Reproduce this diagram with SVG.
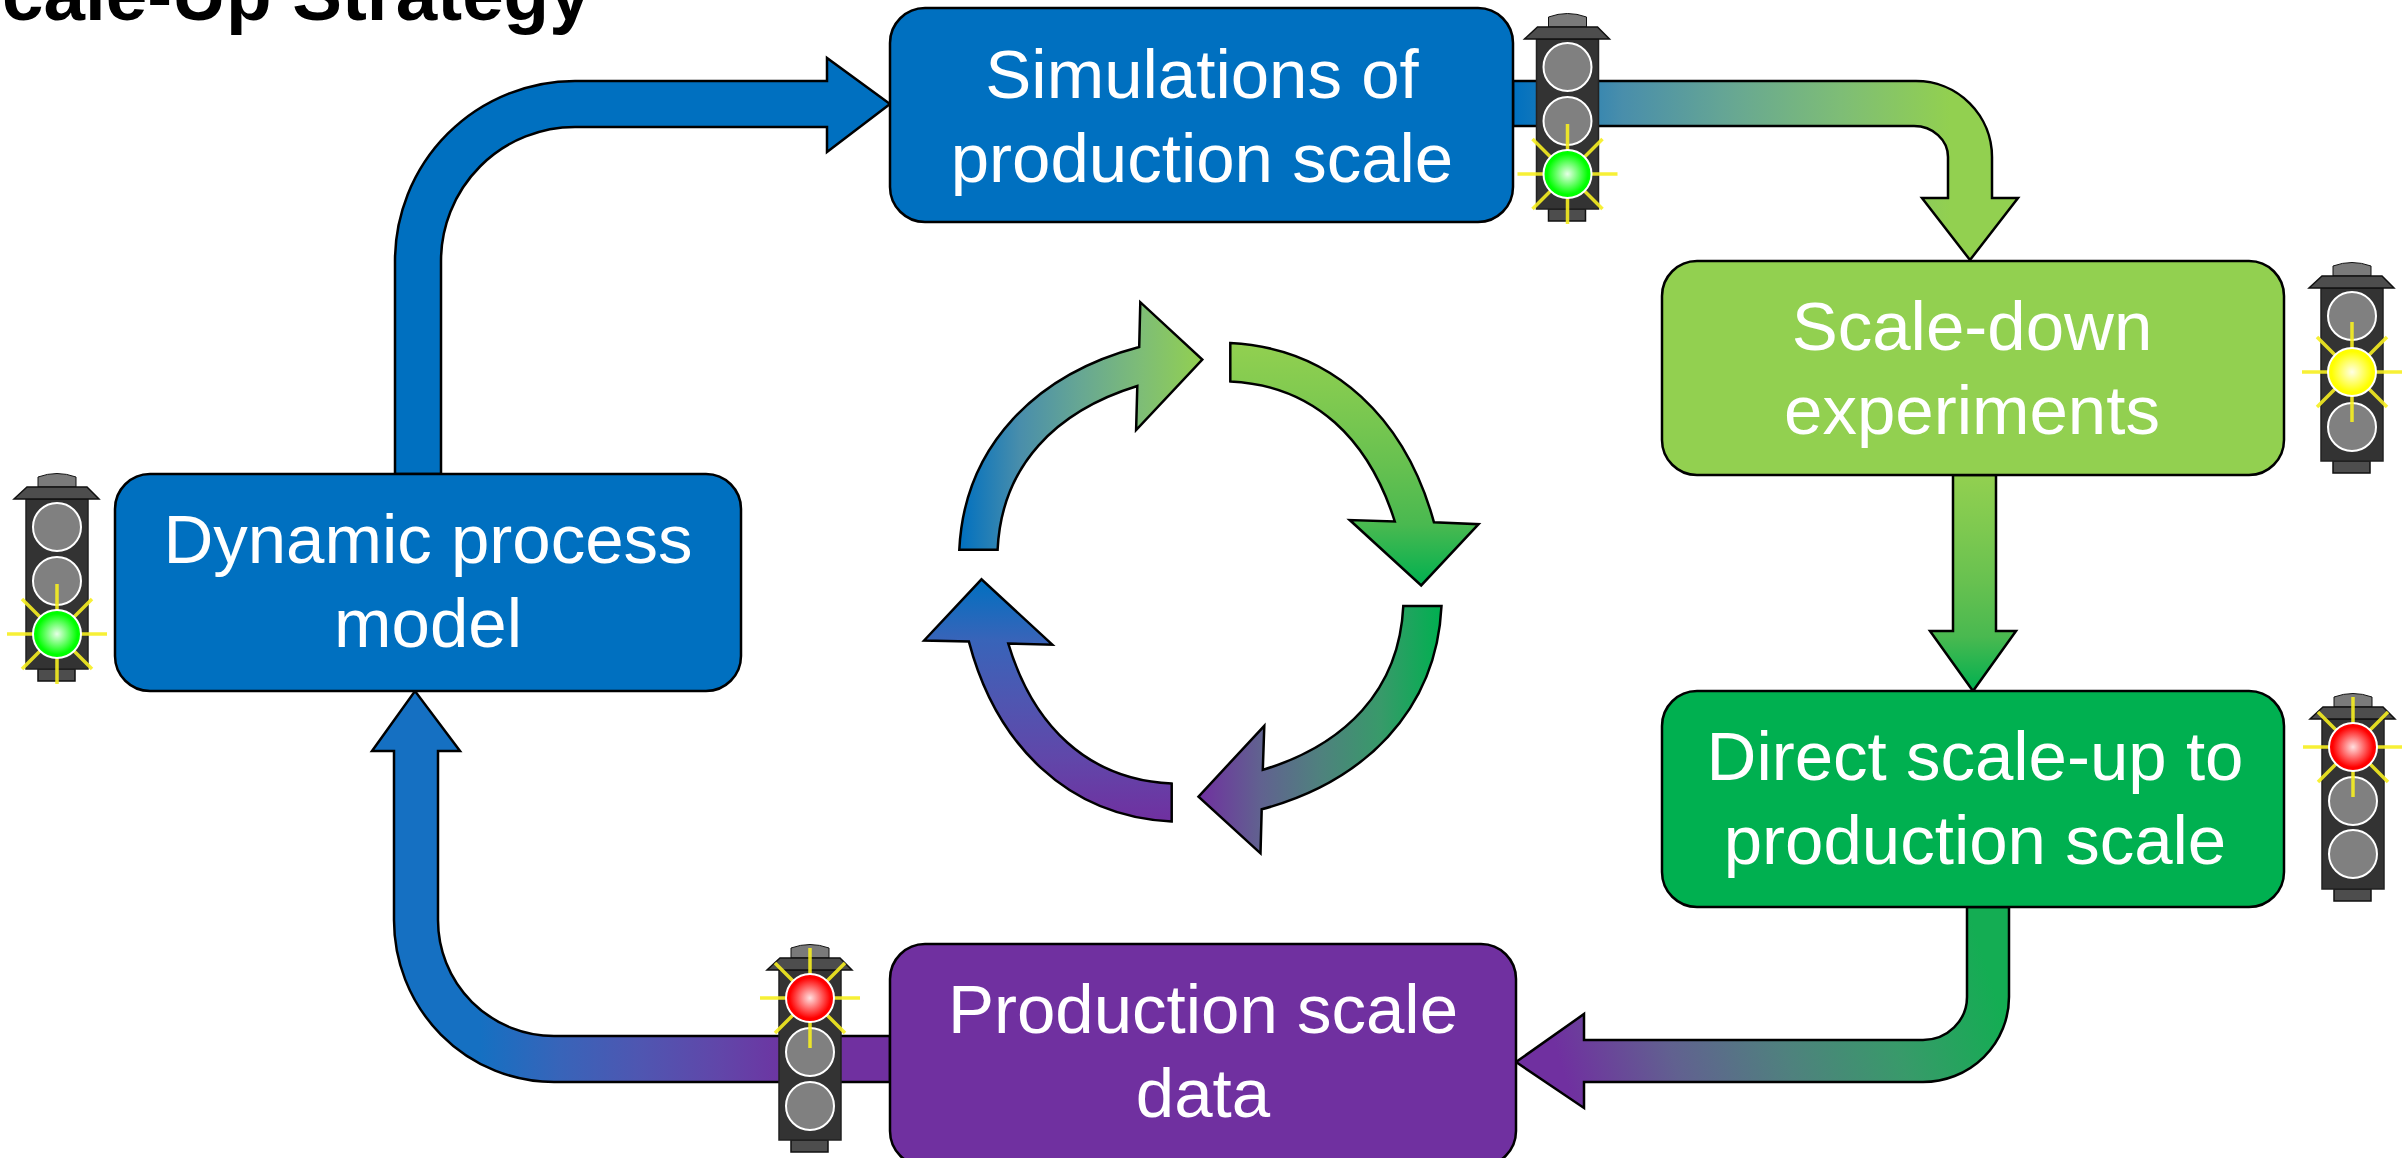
<svg xmlns="http://www.w3.org/2000/svg" width="2402" height="1158" viewBox="0 0 2402 1158">
<defs>
<style>
.conn{stroke:#000;stroke-width:2.5;stroke-linejoin:miter}
.node{stroke:#000;stroke-width:2.5}
.label{fill:#fff;font-family:"Liberation Sans",Arial,sans-serif;font-size:69px;text-anchor:middle}
.title{fill:#000;font-family:"Liberation Sans",Arial,sans-serif;font-size:74.6px;font-weight:bold}
.body{fill:#333;stroke:#222;stroke-width:1.5}
.hood{fill:#4d4d4d;stroke:#111;stroke-width:1.5}
.cap{fill:#7a7a7a;stroke:#111;stroke-width:1}
.lamp{fill:#808080;stroke:#fff;stroke-width:2}
.on{stroke:#fff;stroke-width:2}
.rays{stroke:#f6ee20;stroke-width:3.5;stroke-opacity:.9;fill:none}
</style>
<linearGradient id="gB" gradientUnits="userSpaceOnUse" x1="1513" y1="0" x2="1950" y2="0"><stop offset="0" stop-color="#0070c0"/><stop offset=".25" stop-color="#498eab"/><stop offset=".5" stop-color="#67a793"/><stop offset=".75" stop-color="#7ebd76"/><stop offset="1" stop-color="#92d050"/></linearGradient>
<linearGradient id="gC" x1="0" y1="0" x2="0" y2="1"><stop offset="0" stop-color="#92d050"/><stop offset=".25" stop-color="#7ec950"/><stop offset=".5" stop-color="#67c150"/><stop offset=".75" stop-color="#49b950"/><stop offset="1" stop-color="#00b050"/></linearGradient>
<linearGradient id="gD" gradientUnits="userSpaceOnUse" x1="1975" y1="930" x2="1560" y2="1062"><stop offset="0" stop-color="#14ad53"/><stop offset=".25" stop-color="#389a6a"/><stop offset=".5" stop-color="#4f817e"/><stop offset=".75" stop-color="#616190"/><stop offset="1" stop-color="#7030a0"/></linearGradient>
<linearGradient id="gE" gradientUnits="userSpaceOnUse" x1="800" y1="0" x2="480" y2="0"><stop offset="0" stop-color="#7030a0"/><stop offset=".25" stop-color="#6146a9"/><stop offset=".5" stop-color="#4f56b1"/><stop offset=".75" stop-color="#3864b9"/><stop offset="1" stop-color="#1570c2"/></linearGradient>
<linearGradient id="c1" x1="0" y1="0" x2="1" y2="0"><stop offset="0" stop-color="#0070c0"/><stop offset=".25" stop-color="#498eab"/><stop offset=".5" stop-color="#67a793"/><stop offset=".75" stop-color="#7ebd76"/><stop offset="1" stop-color="#92d050"/></linearGradient>
<linearGradient id="c2" x1="0" y1="0" x2="0" y2="1"><stop offset="0" stop-color="#92d050"/><stop offset=".25" stop-color="#7ec950"/><stop offset=".5" stop-color="#67c150"/><stop offset=".75" stop-color="#49b950"/><stop offset="1" stop-color="#00b050"/></linearGradient>
<linearGradient id="c3" x1="1" y1="0" x2="0" y2="0"><stop offset="0" stop-color="#00b050"/><stop offset=".25" stop-color="#389a6a"/><stop offset=".5" stop-color="#4f817e"/><stop offset=".75" stop-color="#616190"/><stop offset="1" stop-color="#7030a0"/></linearGradient>
<linearGradient id="c4" x1="0" y1="1" x2="0" y2="0"><stop offset="0" stop-color="#7030a0"/><stop offset=".25" stop-color="#6146a9"/><stop offset=".5" stop-color="#4f56b1"/><stop offset=".75" stop-color="#3864b9"/><stop offset="1" stop-color="#0070c0"/></linearGradient>
<radialGradient id="gG"><stop offset="0" stop-color="#e6ffe6"/><stop offset=".85" stop-color="#00ff00"/></radialGradient>
<radialGradient id="gY"><stop offset="0" stop-color="#ffffe6"/><stop offset=".85" stop-color="#ffff00"/></radialGradient>
<radialGradient id="gR"><stop offset="0" stop-color="#ffe0e0"/><stop offset=".85" stop-color="#ff0000"/></radialGradient>
<g id="housing">
<path class="cap" d="M38 487V477Q57 470 76 477V487Z"/>
<path class="hood" d="M38 669H75V681H38Z"/>
<path class="body" d="M26 499H88V669H26Z"/>
<path class="hood" d="M27 487H87L99 499H14Z"/>
</g>
<g id="housing-tall">
<path class="cap" d="M38 487V477Q57 470 76 477V487Z"/>
<path class="hood" d="M38 672H75V684H38Z"/>
<path class="body" d="M26 499H88V672H26Z"/>
<path class="hood" d="M27 487H87L99 499H14Z"/>
</g>
<path id="burst" class="rays" d="M-50 0H50M0 -50V50M-35 -35L35 35M-35 35L35 -35"/>
</defs>
<rect width="2402" height="1158" fill="#fff"/>
<text class="title" x="2" y="20">cale-Up Strategy</text>
<g id="connectors">
<path class="conn" fill="#0070c0" d="M395 474V261A180 180 0 0 1 575 81H827V58L890 104L827 152V127H575A134 134 0 0 0 441 261V474Z"/>
<path class="conn" fill="url(#gB)" d="M1513 81H1916A76 76 0 0 1 1992 157V198H2018L1970 260L1922 198H1948V157A34 31 0 0 0 1914 126H1513Z"/>
<path class="conn" fill="url(#gC)" d="M1953 475H1996V631H2016L1973 691L1930 631H1953Z"/>
<path class="conn" fill="url(#gD)" d="M1967 907V997A44 43 0 0 1 1923 1040H1584V1014L1516 1062L1584 1108V1082H1923A86 85 0 0 0 2009 997V907Z"/>
<path class="conn" fill="url(#gE)" d="M890 1036H554A116 116 0 0 1 438 920V751H460L415 691L372 751H394V920A160 162 0 0 0 554 1082H890Z"/>
<path class="conn" fill="url(#c1)" d="M959.3 549.8C964.3 444.8 1037.3 373.8 1139.2 347L1140.3 302.2L1202.3 359.6L1136.1 430L1137.3 386C1056.6 410.8 1001.6 464.8 997.6 549.8Z"/>
<path class="conn" fill="url(#c2)" d="M1230.3 343.1C1335.3 348.1 1406.3 421.1 1433.9 522.2L1478.6 524.2L1421.2 585.4L1349.7 520L1394.8 521.5C1369.3 440.4 1315.3 385.4 1230.3 381.4Z"/>
<path class="conn" fill="url(#c3)" d="M1441.5 606C1436.5 711 1363.5 782 1261.7 809.3L1260.5 853.3L1198.5 796.6L1264.3 725.8L1262.8 769.9C1344.3 745 1399.3 691 1403.3 606Z"/>
<path class="conn" fill="url(#c4)" d="M1171.7 821.5C1066.7 816.5 995.7 743.5 968.9 641.6L924.1 640.5L981.5 579.3L1052.3 644.7L1008.3 643.6C1032.7 724.6 1086.7 779.6 1171.7 783.6Z"/>
</g>
<g id="node-simulations"><rect class="node" x="890" y="8" width="623" height="214" rx="35" fill="#0070c0"/><text class="label" x="1202" y="98">Simulations of</text><text class="label" x="1202" y="182">production scale</text></g>
<g id="node-scaledown"><rect class="node" x="1662" y="261" width="622" height="214" rx="35" fill="#92d050"/><text class="label" x="1972" y="350">Scale-down</text><text class="label" x="1972" y="434">experiments</text></g>
<g id="node-direct"><rect class="node" x="1662" y="691" width="622" height="216" rx="35" fill="#00b050"/><text class="label" x="1975" y="780">Direct scale-up to</text><text class="label" x="1975" y="864">production scale</text></g>
<g id="node-production"><rect class="node" x="890" y="944" width="626" height="222" rx="35" fill="#7030a0"/><text class="label" x="1203" y="1033">Production scale</text><text class="label" x="1203" y="1117">data</text></g>
<g id="node-model"><rect class="node" x="115" y="474" width="626" height="217" rx="35" fill="#0070c0"/><text class="label" x="428" y="563">Dynamic process</text><text class="label" x="428" y="647">model</text></g>
<g id="light-model"><use href="#housing"/><circle class="lamp" cx="57" cy="527" r="24"/><circle class="lamp" cx="57" cy="581" r="24"/><use href="#burst" x="57" y="634"/><circle class="on" cx="57" cy="634" r="24" fill="url(#gG)"/></g>
<g id="light-simulations" transform="translate(1510.5 -460)"><use href="#housing"/><circle class="lamp" cx="57" cy="527" r="24"/><circle class="lamp" cx="57" cy="581" r="24"/><use href="#burst" x="57" y="634"/><circle class="on" cx="57" cy="634" r="24" fill="url(#gG)"/></g>
<g id="light-scaledown" transform="translate(2295 -211)"><use href="#housing-tall"/><circle class="lamp" cx="57" cy="527" r="24"/><circle class="lamp" cx="57" cy="638" r="24"/><use href="#burst" x="57" y="583"/><circle class="on" cx="57" cy="583" r="24" fill="url(#gY)"/></g>
<g id="light-direct" transform="translate(2296 220)"><use href="#housing"/><circle class="lamp" cx="57" cy="581" r="24"/><circle class="lamp" cx="57" cy="634" r="24"/><use href="#burst" x="57" y="527"/><circle class="on" cx="57" cy="527" r="24" fill="url(#gR)"/></g>
<g id="light-production" transform="translate(753 471)"><use href="#housing"/><circle class="lamp" cx="57" cy="581" r="24"/><circle class="lamp" cx="57" cy="635" r="24"/><use href="#burst" x="57" y="527"/><circle class="on" cx="57" cy="527" r="24" fill="url(#gR)"/></g>
</svg>
